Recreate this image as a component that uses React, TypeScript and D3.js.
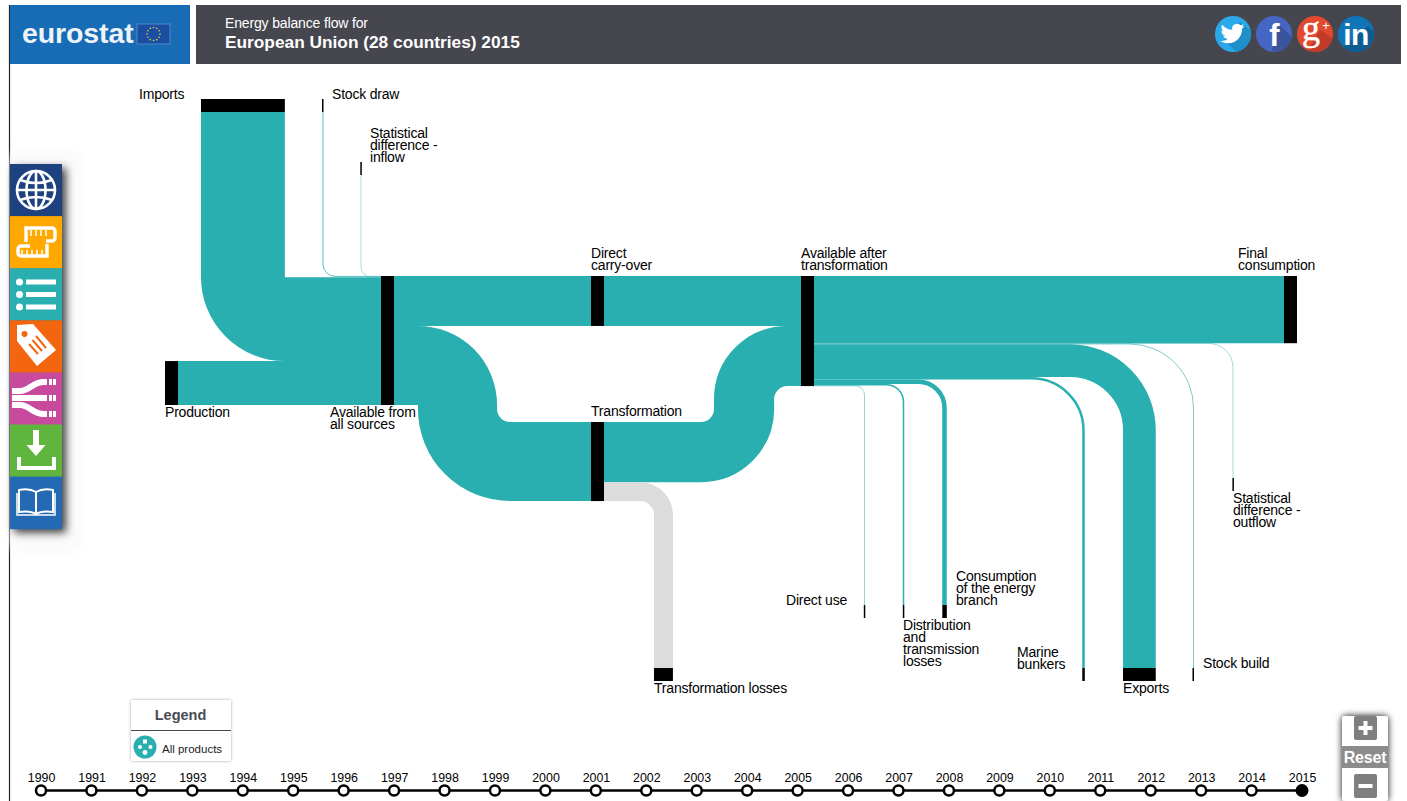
import * as d3 from "d3";

// energy balance, Mtoe
const sourceNames = ["Stock draw", "Statistical difference - inflow", "Imports", "Production"];
const sourceValues = [14, 7, 1485, 778];
const splitNames = ["Direct carry-over", "Transformation input"];
const splitValues = [884, 1400];
const transformationNames = ["Transformation output", "Transformation losses"];
const transformationValues = [1065, 335];
const useNames = [
  "Final consumption",
  "Statistical difference - outflow",
  "Stock build",
  "Exports",
  "Marine bunkers",
  "Consumption of the energy branch",
  "Distribution and transmission losses",
  "Direct use",
];
const useValues = [1190, 8, 11, 580, 44, 80, 27, 9];
const years = [
  "1990", "1991", "1992", "1993", "1994", "1995", "1996", "1997", "1998", "1999", "2000", "2001", "2002",
  "2003", "2004", "2005", "2006", "2007", "2008", "2009", "2010", "2011", "2012", "2013", "2014", "2015",
];

const TEAL = "#2aafb0";
const GREY = "#dcdcdc";
const FONT = "'Liberation Sans', Arial, sans-serif";
const NODE = 13;

const total = d3.sum(sourceValues);
const px = d3.scaleLinear().domain([0, total]).range([0, 129]);
const yearX = d3.scalePoint().domain(years).range([41, 1302]);

// rounded polyline: every inner point is a corner, radii go with them
function route(points: number[][], radii: number[] = []) {
  const p = d3.path();
  p.moveTo(points[0][0], points[0][1]);
  for (let i = 1; i < points.length - 1; i++) {
    p.arcTo(points[i][0], points[i][1], points[i + 1][0], points[i + 1][1], radii[i - 1]);
  }
  const end = points[points.length - 1];
  p.lineTo(end[0], end[1]);
  return p.toString();
}

// top of each band when stacked on a node
function stack(values: number[], top: number) {
  let y = top;
  return values.map((v) => {
    const w = px(v);
    const mid = y + w / 2;
    y += w;
    return { w, mid };
  });
}

function Flow({ d, w, color = TEAL }: { d: string; w: number; color?: string }) {
  return <path d={d} fill="none" stroke={color} strokeWidth={w} />;
}

function Bar({ x, y, w, h }: { x: number; y: number; w: number; h: number }) {
  return <rect x={x} y={y} width={w} height={h} fill="#000" />;
}

function Label({ x, y, lines, size = 14 }: { x: number; y: number; lines: string[]; size?: number }) {
  return (
    <text x={x} y={y} fontSize={size} fill="#000" letterSpacing={-0.2}>
      {lines.map((l, i) => (
        <tspan key={l} x={x} dy={i === 0 ? 0 : 12}>
          {l}
        </tspan>
      ))}
    </text>
  );
}

function Sankey() {
  const top = 276;
  const transTop = 422;
  const leftX = 381;
  const carryX = 591;
  const afterX = 801;
  const finalX = 1284;
  const bottomY = 668;
  const branchY = 605;

  const [stockDraw, statIn, imports, production] = stack(sourceValues, top);
  const [carry, transIn] = stack(splitValues, top);
  const [transOut, losses] = stack(transformationValues, transTop);
  const [, transIntoAfter] = stack([splitValues[0], transformationValues[0]], top);
  const [finalUse, statOut, stockBuild, exportsBand, marine, energy, distribution, direct] = stack(useValues, top);

  const afterRight = afterX + NODE;
  const importsX = 201 + imports.w / 2;
  const inMidX = 418 + transIn.w / 2;
  const outMidX = 714 + transOut.w / 2;
  const lossMidX = 654 + losses.w / 2;
  const exportsX = 1123 + exportsBand.w / 2;
  const transMid = transTop + transIn.w / 2;
  const thin = (w: number) => Math.max(w, 1.5);

  return (
    <g>
      {/* into Available from all sources */}
      <Flow d={route([[323, 112], [323, stockDraw.mid], [leftX, stockDraw.mid]], [12])} w={stockDraw.w} />
      <Flow d={route([[361, 175], [361, statIn.mid], [leftX, statIn.mid]], [10])} w={statIn.w} />
      <Flow d={route([[importsX, 112], [importsX, imports.mid], [leftX, imports.mid]], [imports.w / 2])} w={imports.w} />
      <Flow d={route([[178, production.mid], [leftX, production.mid]])} w={production.w} />

      {/* carry over and transformation */}
      <Flow d={route([[leftX + NODE, carry.mid], [afterX, carry.mid]])} w={carry.w} />
      <Flow
        d={route(
          [[leftX + NODE, transIn.mid], [inMidX, transIn.mid], [inMidX, transMid], [carryX, transMid]],
          [transIn.w / 2, 13 + transIn.w / 2],
        )}
        w={transIn.w}
      />
      <Flow
        d={route(
          [[carryX + NODE, transOut.mid], [outMidX, transOut.mid], [outMidX, transIntoAfter.mid], [afterX, transIntoAfter.mid]],
          [13 + transOut.w / 2, 13 + transOut.w / 2],
        )}
        w={transOut.w}
      />
      <Flow
        d={route([[carryX + NODE, losses.mid], [lossMidX, losses.mid], [lossMidX, bottomY]], [14 + losses.w / 2])}
        w={losses.w}
        color={GREY}
      />

      {/* uses */}
      <Flow d={route([[afterRight, finalUse.mid], [finalX, finalUse.mid]])} w={finalUse.w} />
      <Flow d={route([[afterRight, statOut.mid], [1233, statOut.mid], [1233, 478]], [24])} w={statOut.w} />
      <Flow d={route([[afterRight, stockBuild.mid], [1193.5, stockBuild.mid], [1193.5, bottomY]], [64])} w={stockBuild.w} />
      <Flow
        d={route([[afterRight, exportsBand.mid], [exportsX, exportsBand.mid], [exportsX, bottomY]], [53 + exportsBand.w / 2])}
        w={exportsBand.w}
      />
      <Flow d={route([[afterRight, marine.mid], [1083.5, marine.mid], [1083.5, bottomY]], [52])} w={marine.w} />
      <Flow d={route([[afterRight, energy.mid], [944.5, energy.mid], [944.5, branchY]], [26])} w={energy.w} />
      <Flow d={route([[afterRight, distribution.mid], [903.5, distribution.mid], [903.5, branchY]], [17])} w={distribution.w} />
      <Flow d={route([[afterRight, direct.mid], [864.5, direct.mid], [864.5, branchY]], [9])} w={direct.w} />

      {/* nodes */}
      <Bar x={201} y={99} w={imports.w} h={NODE} />
      <Bar x={322} y={99} w={thin(stockDraw.w)} h={NODE} />
      <Bar x={360.3} y={162} w={thin(statIn.w)} h={NODE} />
      <Bar x={165} y={top + px(sourceValues[0] + sourceValues[1] + sourceValues[2])} w={NODE} h={production.w} />
      <Bar x={leftX} y={top} w={NODE} h={px(total)} />
      <Bar x={carryX} y={top} w={NODE} h={carry.w} />
      <Bar x={carryX} y={transTop} w={NODE} h={transIn.w} />
      <Bar x={afterX} y={top} w={NODE} h={px(d3.sum(useValues))} />
      <Bar x={finalX} y={top} w={NODE} h={finalUse.w} />
      <Bar x={654} y={bottomY} w={losses.w} h={NODE} />
      <Bar x={1232.4} y={478} w={thin(statOut.w)} h={NODE} />
      <Bar x={1192.5} y={bottomY} w={thin(stockBuild.w)} h={NODE} />
      <Bar x={1123} y={bottomY} w={exportsBand.w} h={NODE} />
      <Bar x={1082.3} y={bottomY} w={marine.w} h={NODE} />
      <Bar x={942.3} y={branchY} w={energy.w} h={NODE} />
      <Bar x={902.8} y={branchY} w={thin(distribution.w)} h={NODE} />
      <Bar x={863.8} y={branchY} w={thin(direct.w)} h={NODE} />

      {/* labels */}
      <Label x={139} y={99} lines={["Imports"]} />
      <Label x={332} y={99} lines={["Stock draw"]} />
      <Label x={370} y={138} lines={["Statistical", "difference -", "inflow"]} />
      <Label x={591} y={258} lines={["Direct", "carry-over"]} />
      <Label x={801} y={258} lines={["Available after", "transformation"]} />
      <Label x={1238} y={258} lines={["Final", "consumption"]} />
      <Label x={165} y={417} lines={["Production"]} />
      <Label x={330} y={417} lines={["Available from", "all sources"]} />
      <Label x={591} y={416} lines={["Transformation"]} />
      <Label x={1233} y={503} lines={["Statistical", "difference -", "outflow"]} />
      <Label x={786} y={605} lines={["Direct use"]} />
      <Label x={956} y={581} lines={["Consumption", "of the energy", "branch"]} />
      <Label x={903} y={630} lines={["Distribution", "and", "transmission", "losses"]} />
      <Label x={1017} y={657} lines={["Marine", "bunkers"]} />
      <Label x={1203} y={668} lines={["Stock build"]} />
      <Label x={1123} y={693} lines={["Exports"]} />
      <Label x={654} y={693} lines={["Transformation losses"]} />
    </g>
  );
}

function Header() {
  const stars = d3.range(12).map((i) => (i * Math.PI) / 6);
  return (
    <g>
      <rect x={10} y={5} width={180} height={59} fill="#176cb5" />
      <rect x={196} y={5} width={1205} height={59} fill="#46464f" />
      <text x={22} y={43} fontSize={28.5} fontWeight="bold" fill="#eef3f8" letterSpacing={-0.1}>
        eurostat
      </text>
      <rect x={137} y={24} width={33} height={20} fill="#1b4ea0" stroke="#4f8ac6" strokeWidth={1} />
      {stars.map((a) => (
        <circle key={a} cx={153.5 + 6.5 * Math.cos(a)} cy={34 + 6.5 * Math.sin(a)} r={0.8} fill="#e7d544" />
      ))}
      <text x={225} y={28} fontSize={14} fill="#fff" letterSpacing={-0.15}>
        Energy balance flow for
      </text>
      <text x={225} y={48} fontSize={17.3} fontWeight="bold" fill="#fff">
        European Union (28 countries) 2015
      </text>
      <Social />
    </g>
  );
}

function Social() {
  const r = 18;
  return (
    <g>
      <clipPath id="c-t"><circle cx={1233} cy={34} r={r} /></clipPath>
      <clipPath id="c-f"><circle cx={1274} cy={34} r={r} /></clipPath>
      <clipPath id="c-g"><circle cx={1315} cy={34} r={r} /></clipPath>
      <clipPath id="c-l"><circle cx={1356} cy={34} r={r} /></clipPath>

      <circle cx={1233} cy={34} r={r} fill="#2aa9ea" />
      <path d="M1224 40 L1240 22 L1255 34 L1240 56 Z" fill="#1f8fca" clipPath="url(#c-t)" />
      <path
        transform="translate(1220.5,21.5)"
        fill="#fff"
        d="M23.953 4.57a10 10 0 01-2.825.775 4.958 4.958 0 002.163-2.723c-.951.555-2.005.959-3.127 1.184a4.92 4.92 0 00-8.384 4.482C7.69 8.095 4.067 6.13 1.64 3.162a4.822 4.822 0 00-.666 2.475c0 1.71.87 3.213 2.188 4.096a4.904 4.904 0 01-2.228-.616v.06a4.923 4.923 0 003.946 4.827 4.996 4.996 0 01-2.212.085 4.936 4.936 0 004.604 3.417 9.867 9.867 0 01-6.102 2.105c-.39 0-.779-.023-1.17-.067a13.995 13.995 0 007.557 2.209c9.053 0 13.998-7.496 13.998-13.985 0-.21 0-.42-.015-.63A9.935 9.935 0 0024 4.59z"
      />

      <circle cx={1274} cy={34} r={r} fill="#4567c3" />
      <path d="M1272 50 L1279 24 L1296 42 L1285 60 Z" fill="#3a539a" clipPath="url(#c-f)" />
      <text x={1274.5} y={46} textAnchor="middle" fontSize={31} fontWeight="bold" fill="#fff">f</text>

      <circle cx={1315} cy={34} r={r} fill="#e3492f" />
      <path d="M1308 50 L1320 30 L1336 40 L1326 58 Z" fill="#c23a28" clipPath="url(#c-g)" />
      <text x={1311} y={40} textAnchor="middle" fontSize={36} fontFamily="'Liberation Serif', serif" fill="#fff" stroke="#fff" strokeWidth={0.5}>g</text>
      <text x={1326} y={30} textAnchor="middle" fontSize={13} fill="#fff">+</text>

      <circle cx={1356} cy={34} r={r} fill="#0f74b8" />
      <path d="M1342 48 L1368 26 L1378 36 L1366 56 Z" fill="#0c5d92" clipPath="url(#c-l)" />
      <text x={1356} y={45} textAnchor="middle" fontSize={30} fontWeight="bold" fill="#fff" letterSpacing={-0.5}>in</text>
    </g>
  );
}

const panelColors = ["#1e4180", "#ffa900", "#2aafb0", "#f4650f", "#c74a9d", "#5fb53d", "#2469b3"];

function Panel() {
  const top = 164;
  const h = 52.1;
  return (
    <g>
      <rect x={10} y={150} width={72} height={402} fill="#fafafa" rx={12} filter="url(#blur)" />
      <rect x={10} y={top} width={52} height={h * panelColors.length} fill="#333" filter="url(#panelShadow)" />
      {panelColors.map((c, i) => (
        <rect key={c} x={10} y={top + i * h} width={52} height={h + 0.5} fill={c} />
      ))}

      {/* globe */}
      <g fill="none" stroke="#fff" strokeWidth={2.6}>
        <circle cx={36} cy={190} r={19} />
        <ellipse cx={36} cy={190} rx={9.5} ry={19} />
        <line x1={36} y1={171} x2={36} y2={209} />
        <line x1={17} y1={190} x2={55} y2={190} />
        <path d="M20 180 Q36 186 52 180" />
        <path d="M20 200 Q36 194 52 200" />
      </g>

      {/* rulers */}
      <g fill="none" stroke="#fff" strokeWidth={3.4}>
        <path d="M26 242 V228 H52 a3 3 0 0 1 3 3 V238 a3 3 0 0 1 -3 3 H46" />
        <path d="M47 244 V256 H21 a3 3 0 0 1 -3 -3 V249 a3 3 0 0 1 3 -3 H30" />
      </g>
      <g stroke="#fff" strokeWidth={1.5}>
        {[31, 36, 41, 46].map((x) => <line key={x} x1={x} y1={230} x2={x} y2={236} />)}
        {[22, 27, 32, 37, 42].map((x) => <line key={x} x1={x} y1={255} x2={x} y2={250} />)}
      </g>

      {/* list */}
      {[282, 294.5, 307].map((y) => (
        <g key={y} fill="#fff">
          <circle cx={19.5} cy={y} r={3.5} />
          <rect x={26} y={y - 2.5} width={30} height={5} />
        </g>
      ))}

      {/* tag */}
      <path d="M17 325 L33 324 L56 350 L37 366 L17 341 Z" fill="#fff" />
      <circle cx={24.5} cy={334} r={3} fill="#f4650f" />
      <g stroke="#f4650f" strokeWidth={2}>
        <line x1={29} y1={344} x2={38} y2={354} />
        <line x1={32.5} y1={340} x2={42} y2={351} />
        <line x1={36} y1={336} x2={46} y2={348} />
      </g>

      {/* flows */}
      <g fill="none" stroke="#fff" strokeWidth={6}>
        <path d="M12 391 H20 C30 391 32 382 44 382 H47" />
        <path d="M12 398 H47" />
        <path d="M12 405 H20 C30 405 32 414 44 414 H47" />
      </g>
      <g fill="#fff">
        {[379, 395, 411].map((y) => (
          <g key={y}>
            <rect x={49} y={y} width={3} height={6} />
            <rect x={53} y={y} width={3} height={6} />
          </g>
        ))}
      </g>

      {/* download */}
      <rect x={33} y={430} width={6} height={15} fill="#fff" />
      <path d="M26.5 445 H45.5 L36 456 Z" fill="#fff" />
      <path d="M19 457 V468 H54 V457" fill="none" stroke="#fff" strokeWidth={4} />

      {/* book */}
      <g fill="none" stroke="#fff" strokeWidth={2}>
        <path d="M36 492 C31 489 24 489 19 490 V512 C25 511 31 511 36 514 C41 511 47 511 53 512 V490 C48 489 41 489 36 492 V514" />
        <path d="M17 493 V515 H55 V493" strokeWidth={1.5} />
      </g>
    </g>
  );
}

function Legend() {
  return (
    <g>
      <rect x={131} y={700} width={100} height={61} fill="#fff" filter="url(#softShadow)" />
      <text x={180.5} y={720} textAnchor="middle" fontSize={14.5} fontWeight="bold" fill="#4a4a55">Legend</text>
      <line x1={131} x2={231} y1={730.5} y2={730.5} stroke="#46464f" strokeWidth={1} />
      <circle cx={145} cy={747} r={11.5} fill={TEAL} />
      <g fill="#fff">
        <rect x={143} y={739.5} width={4} height={4} />
        <circle cx={140} cy={747} r={2} />
        <circle cx={150.5} cy={747} r={2} />
        <circle cx={145} cy={752.5} r={2.4} />
      </g>
      <text x={162} y={753} fontSize={11.5} fill="#222">All products</text>
    </g>
  );
}

function Timeline() {
  const y = 790.5;
  return (
    <g>
      <line x1={yearX(years[0])} x2={yearX(years[years.length - 1])} y1={y} y2={y} stroke="#000" strokeWidth={2.5} />
      {years.map((yr, i) => {
        const last = i === years.length - 1;
        return (
          <g key={yr}>
            <text x={yearX(yr) + 0.6} y={782} textAnchor="middle" fontSize={12.4} fill="#000">{yr}</text>
            <circle
              cx={yearX(yr)}
              cy={y}
              r={last ? 6.5 : 5}
              fill={last ? "#000" : "#fff"}
              stroke="#000"
              strokeWidth={last ? 0 : 2.5}
            />
          </g>
        );
      })}
    </g>
  );
}

function ZoomBox() {
  return (
    <g>
      <rect x={1342} y={716} width={46} height={85} rx={3} fill="#fff" filter="url(#zoomShadow)" />
      <rect x={1354} y={716} width={23} height={24} rx={2} fill="#7f7f7f" />
      <path d="M1365.5 721 V735 M1358.5 728 H1372.5" stroke="#fff" strokeWidth={4} />
      <rect x={1342} y={746} width={46} height={22} fill="#8c8c8c" />
      <text x={1365} y={763} textAnchor="middle" fontSize={16} fontWeight="bold" fill="#fff" letterSpacing={-0.2}>Reset</text>
      <rect x={1354} y={774} width={23} height={24} rx={2} fill="#7f7f7f" />
      <path d="M1358.5 786 H1372.5" stroke="#fff" strokeWidth={4} />
    </g>
  );
}

export default function App() {
  return (
    <svg
      width={1407}
      height={801}
      fontFamily={FONT}
      style={{ position: "absolute", left: 0, top: 0, display: "block", background: "#fff" }}
    >
      <defs>
        <filter id="panelShadow" x="-30%" y="-10%" width="170%" height="125%">
          <feDropShadow dx={4} dy={4} stdDeviation={4} floodColor="#000" floodOpacity={0.75} />
        </filter>
        <filter id="softShadow" x="-10%" y="-10%" width="120%" height="125%">
          <feDropShadow dx={0} dy={0} stdDeviation={1.5} floodColor="#000" floodOpacity={0.35} />
        </filter>
        <filter id="zoomShadow" x="-30%" y="-20%" width="160%" height="140%">
          <feDropShadow dx={0} dy={0} stdDeviation={3.5} floodColor="#000" floodOpacity={0.95} />
        </filter>
        <filter id="blur"><feGaussianBlur stdDeviation={4} /></filter>
      </defs>
      <line x1={9.5} x2={9.5} y1={5} y2={801} stroke="#222" strokeWidth={1.2} />
      <Header />
      <Sankey />
      <Panel />
      <Legend />
      <Timeline />
      <ZoomBox />
    </svg>
  );
}
